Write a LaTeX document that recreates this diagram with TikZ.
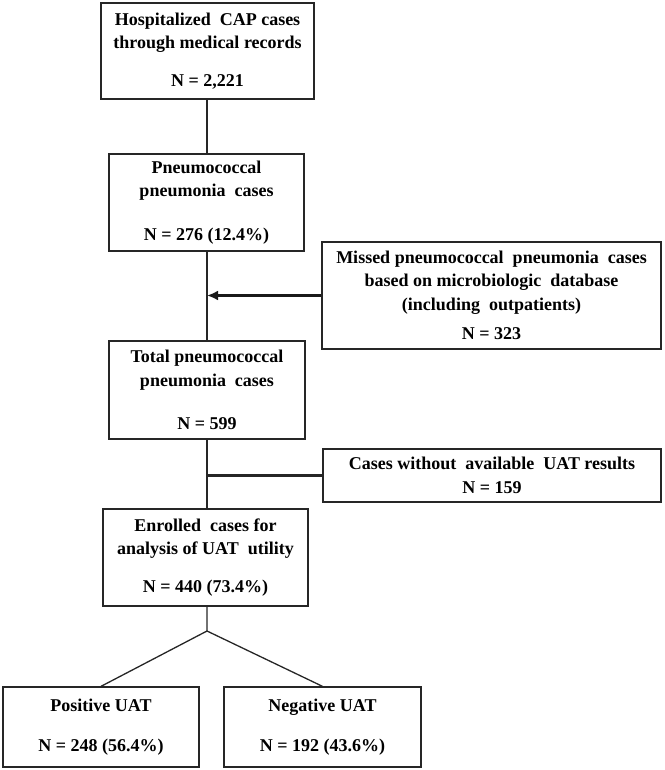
\documentclass[tikz,border=0pt]{standalone}
\usepackage{fontspec}
\setmainfont{Liberation Serif}
\usepackage{tikz}
\usetikzlibrary{arrows.meta,positioning,calc}

\begin{document}
\begin{tikzpicture}[x=1pt,y=-1pt,
    stage/.style={draw=black!85,line width=1.3pt,inner sep=0pt,align=center,
      font=\bfseries\fontsize{18}{23.5}\selectfont},
    link/.style={draw=black!85,line width=1.3pt},
    feed/.style={draw=black!90,line width=2.2pt,-{Latex[length=11pt,width=10pt]}}]
    \useasboundingbox (0,0) rectangle (664,770);
    % main column
    \node[stage,minimum width=213,minimum height=96] (hosp) at (207.5,51)
      {Hospitalized\ \ CAP cases\\ through medical records\\[14pt] N = 2,221};
    \node[stage,minimum width=195,minimum height=97] (pneu) at (206.5,202.5)
      {Pneumococcal\\ pneumonia\ \ cases\\[20pt] N = 276 (12.4\%)};
    \node[stage,minimum width=196,minimum height=98] (total) at (207,390)
      {Total pneumococcal\\ pneumonia\ \ cases\\[20pt] N = 599};
    \node[stage,minimum width=205,minimum height=97] (enrol) at (205.5,557.5)
      {Enrolled\ \ cases for\\ analysis of UAT\ \ utility\\[14pt] N = 440 (73.4\%)};
    % side boxes
    \node[stage,minimum width=339,minimum height=107] (missed) at (491.5,295.5)
      {Missed pneumococcal\ \ pneumonia\ \ cases\\ based on microbiologic\ \ database\\ (including\ \ outpatients)\\[6pt] N = 323};
    \node[stage,minimum width=338,minimum height=53] (nouat) at (492,475.5)
      {Cases without\ \ available\ \ UAT results\\ N = 159};
    % results
    \node[stage,minimum width=196,minimum height=80] (pos) at (101,727)
      {Positive UAT\\[16pt] N = 248 (56.4\%)};
    \node[stage,minimum width=197,minimum height=80] (neg) at (322.5,727)
      {Negative UAT\\[16pt] N = 192 (43.6\%)};
    \coordinate (split) at (207,631);
    % connectors
    \draw[link] (hosp.south -| split) -- (pneu.north -| split);
    \draw[link] (pneu.south -| split) -- (total.north -| split);
    \draw[link] (total.south -| split) -- (enrol.north -| split);
    \draw[feed] (missed.west) -- (missed.west -| split);
    \draw[link,line width=2.2pt] (nouat.west) -- (nouat.west -| split);
    \draw[link] (enrol.south -| split) -- (split) -- (pos.north);
    \draw[link] (split) -- (neg.north);
\end{tikzpicture}
\end{document}
